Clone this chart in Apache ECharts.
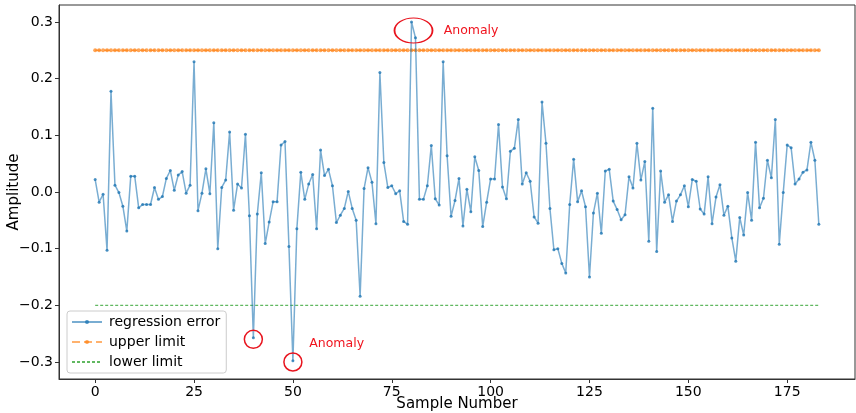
<!DOCTYPE html>
<html><head><meta charset="utf-8">
<script src="https://cdn.jsdelivr.net/npm/echarts@6/dist/echarts.min.js"></script>
<style>html,body{margin:0;padding:0;background:#fff}#c{width:856px;height:413px}</style>
</head><body><div id="c"></div>
<script>
const regressionError = [0.022,-0.018,-0.004,-0.103,0.178,0.012,-0.001,-0.025,-0.069,0.028,
0.028,-0.028,-0.022,-0.022,-0.022,0.008,-0.013,-0.008,0.024,0.038,
0.003,0.030,0.036,-0.002,0.012,0.23,-0.033,-0.002,0.041,-0.003,
0.122,-0.100,0.008,0.021,0.106,-0.032,0.014,0.007,0.102,-0.042,
-0.257,-0.039,0.034,-0.091,-0.053,-0.017,-0.017,0.083,0.089,-0.096,
-0.298,-0.065,0.035,-0.013,0.014,0.031,-0.065,0.074,0.029,0.040,
0.011,-0.054,-0.041,-0.029,0.001,-0.029,-0.050,-0.184,0.006,0.043,
0.017,-0.056,0.211,0.052,0.008,0.011,-0.003,0.002,-0.052,-0.057,
0.300,0.272,-0.013,-0.013,0.011,0.082,-0.012,-0.023,0.230,0.064,
-0.043,-0.015,0.024,-0.060,0.005,-0.035,0.062,0.038,-0.061,-0.018,
0.023,0.023,0.119,0.009,-0.012,0.072,0.077,0.128,0.014,0.034,
0.019,-0.044,-0.055,0.159,0.086,-0.029,-0.102,-0.100,-0.126,-0.143,
-0.022,0.058,-0.017,0.002,-0.026,-0.150,-0.037,-0.002,-0.073,0.037,
0.040,-0.016,-0.031,-0.049,-0.040,0.027,0.007,0.086,0.021,0.054,
-0.087,0.148,-0.105,0.037,-0.018,-0.005,-0.052,-0.016,-0.005,0.011,
-0.026,0.022,0.019,-0.030,-0.039,0.027,-0.056,-0.009,0.013,-0.041,
-0.025,-0.081,-0.122,-0.045,-0.076,-0.001,-0.050,0.088,-0.028,-0.011,
0.056,0.025,0.128,-0.092,-0.001,0.083,0.078,0.014,0.023,0.035,
0.039,0.088,0.056,-0.057];
const upperLimitValue = 0.25;
const lowerLimitValue = -0.2;
const xTicks = [0,25,50,75,100,125,150,175];
const yTicks = [-0.3,-0.2,-0.1,0.0,0.1,0.2,0.3];
const anomalyCircles = [[40,-0.26],[50,-0.3]];
const anomalyEllipse = [80.5,0.285];
const anomalyLabels = [[88,0.285],[54,-0.268]];

const errData = regressionError.map((v,i)=>[i,v]);
const upData = regressionError.map((v,i)=>[i,upperLimitValue]);
const lowData = regressionError.map((v,i)=>[i,lowerLimitValue]);
const n = regressionError.length;
const xmin = -(n-1)*0.05, xmax = (n-1)*1.05;

const font = 'DejaVu Sans';
const fmt = v => (v<0?'\u2212':'') + Math.abs(v).toFixed(1);

const chart = echarts.init(document.getElementById('c'), null, {renderer:'canvas'});
chart.setOption({
  animation:false,
  textStyle:{fontFamily:font},
  grid:{left:59,right:1,top:5,bottom:34,outerBoundsMode:'none',containLabel:false,
        show:true,borderColor:'#333',borderWidth:1},
  legend:{
    orient:'vertical', left:67, top:311, itemGap:6, padding:[4,6,4,4],
    borderColor:'#ccc', borderWidth:1, borderRadius:3, backgroundColor:'rgba(255,255,255,0.8)',
    itemWidth:30, itemHeight:5,
    textStyle:{fontFamily:font,fontSize:14,color:'#000',padding:[0,0,0,2]},
    data:['regression error','upper limit','lower limit']
  },
  xAxis:{
    type:'value', min:xmin, max:xmax,
    name:'Sample Number', nameLocation:'middle', nameGap:18, nameMoveOverlap:false,
    nameTextStyle:{fontFamily:font,fontSize:15,color:'#000'},
    axisLine:{show:true,onZero:false,lineStyle:{color:'#333'}},
    axisTick:{show:true,length:4,customValues:xTicks,lineStyle:{color:'#333'}},
    axisLabel:{customValues:xTicks,fontFamily:font,fontSize:14,color:'#000',margin:6},
    splitLine:{show:false}
  },
  yAxis:{
    type:'value', min:-0.33, max:0.33,
    name:'Amplitude', nameLocation:'middle', nameGap:37, nameRotate:90, nameMoveOverlap:false,
    nameTextStyle:{fontFamily:font,fontSize:15,color:'#000'},
    axisLine:{show:true,onZero:false,lineStyle:{color:'#333'}},
    axisTick:{show:true,length:4,customValues:yTicks,lineStyle:{color:'#333'}},
    axisLabel:{customValues:yTicks,formatter:fmt,fontFamily:font,fontSize:14,color:'#000',margin:6},
    splitLine:{show:false}
  },
  series:[
    {name:'regression error',type:'line',data:errData,
     lineStyle:{color:'#1f77b4',width:1.5,opacity:0.6},
     itemStyle:{color:'rgba(31,119,180,0.8)'},
     symbol:'circle',symbolSize:3,showAllSymbol:true,z:3,
     markPoint:{
       silent:true,
       data:[
         ...anomalyCircles.map(c=>({coord:c,symbol:'circle',symbolSize:18,
            itemStyle:{color:'rgba(0,0,0,0)',borderColor:'#e8141e',borderWidth:1.5},label:{show:false}})),
         {coord:anomalyEllipse,symbol:'circle',symbolSize:[38,25],
            itemStyle:{color:'rgba(0,0,0,0)',borderColor:'#e8141e',borderWidth:1.5},label:{show:false}},
         ...anomalyLabels.map(c=>({coord:c,symbol:'circle',symbolSize:1,
            itemStyle:{color:'rgba(0,0,0,0)'},
            label:{show:true,position:'right',distance:0,formatter:'Anomaly',
              fontFamily:font,fontSize:12.5,color:'#f0141e'}}))
       ]
     }},
    {name:'upper limit',type:'line',data:upData,
     lineStyle:{color:'#ff7f0e',width:1.5,type:'dashed',opacity:0.6},
     itemStyle:{color:'#ff7f0e',opacity:0.7},
     symbol:'circle',symbolSize:4,showAllSymbol:true,z:2},
    {name:'lower limit',type:'line',data:lowData,
     lineStyle:{color:'#2ca02c',width:1.2,type:[3,2],opacity:0.75},
     itemStyle:{color:'#2ca02c',opacity:0.8},
     symbol:'path://M-1,0H1M0,-1V1',symbolSize:3,showAllSymbol:true,z:2}
  ]
});
</script></body></html>
